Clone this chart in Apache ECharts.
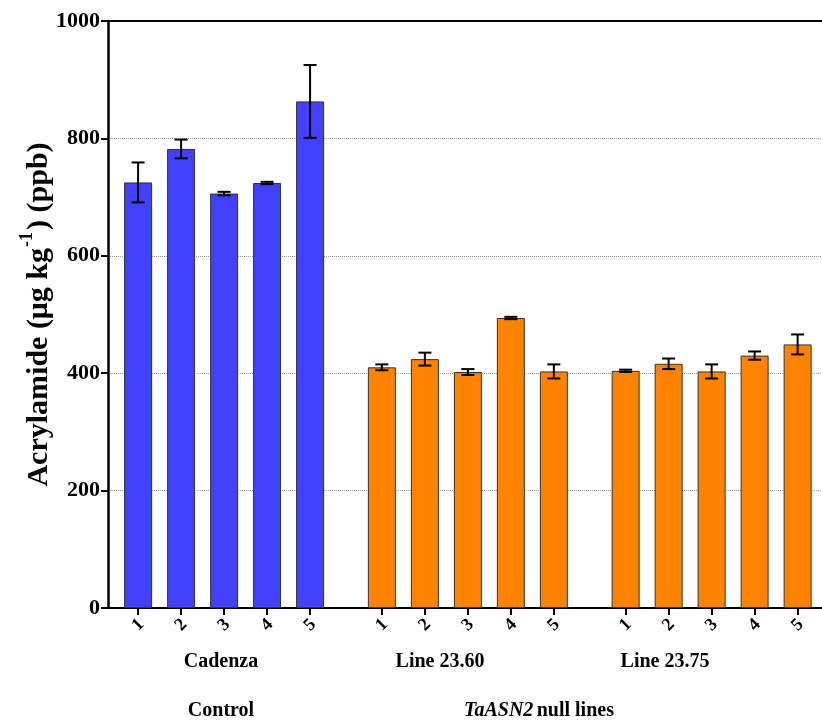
<!DOCTYPE html>
<html>
<head>
<meta charset="utf-8">
<script src="https://cdn.jsdelivr.net/npm/echarts@6/dist/echarts.min.js"></script>
<style>
  html, body { margin: 0; padding: 0; background: #fff; }
  #chart { width: 822px; height: 722px; }
</style>
</head>
<body>
<div id="chart"></div>
<script>
// values (acrylamide, ppb)
var groupNames = ['Cadenza', 'Line 23.60', 'Line 23.75'];
var lineLabels = ['1', '2', '3', '4', '5'];
var cadenzaMeans = [725, 782, 706, 724, 863];
var cadenzaErr = [34, 16, 3, 2, 62];
var line2360Means = [410, 424, 402, 494, 403];
var line2360Err = [5, 11, 5, 2, 12];
var line2375Means = [404, 416, 403, 430, 449];
var line2375Err = [2, 9, 12, 7, 17];
var yTicks = [0, 200, 400, 600, 800, 1000];

var groupMeans = [cadenzaMeans, line2360Means, line2375Means];
var groupErrs = [cadenzaErr, line2360Err, line2375Err];
var groupColors = ['#4141fb', '#ff8200'];
var groupStep = 5.67; // spacing between group starts, in bar slots

var serif = '"Liberation Serif", "Times New Roman", serif';

var barData = [];
var errData = [];
var tickPos = [];
var tickText = {};
groupMeans.forEach(function (means, g) {
    means.forEach(function (v, i) {
        var x = +(g * groupStep + i).toFixed(2);
        var e = groupErrs[g][i];
        barData.push({ value: [x, v], itemStyle: { color: g == 0 ? groupColors[0] : groupColors[1] } });
        errData.push([x, v - e, v + e]);
        tickPos.push(x);
        tickText[x] = lineLabels[i];
    });
});

var chart = echarts.init(document.getElementById('chart'));

var option = {
    backgroundColor: '#fff',
    animation: false,
    grid: {
        left: 108,
        right: -4,
        top: 21,
        bottom: 114,
        containLabel: false,
        outerBoundsMode: 'none'
    },
    xAxis: [{
        type: 'value',
        min: -0.7,
        max: 16,
        splitLine: { show: false },
        axisLine: { show: true, onZero: false, lineStyle: { color: '#000', width: 2 } },
        axisTick: {
            show: true,
            customValues: tickPos,
            length: 7,
            lineStyle: { color: '#000', width: 2 }
        },
        axisLabel: {
            customValues: tickPos,
            rotate: 45,
            align: 'center',
            verticalAlign: 'middle',
            margin: 17,
            fontFamily: serif,
            fontWeight: 'bold',
            fontSize: 18,
            color: '#000',
            formatter: function (v) {
                var k = +(+v).toFixed(2);
                return tickText[k] || '';
            }
        }
    }, {
        type: 'value',
        position: 'top',
        min: -0.7,
        max: 16,
        splitLine: { show: false },
        axisLine: { show: true, onZero: false, lineStyle: { color: '#000', width: 2 } },
        axisTick: { show: false },
        axisLabel: { show: false }
    }],
    yAxis: {
        type: 'value',
        min: yTicks[0],
        max: yTicks[yTicks.length - 1],
        interval: 200,
        name: '{t|Acrylamide (μg kg}{s|-1}{t|) (ppb)}',
        nameLocation: 'middle',
        nameGap: 54,
        nameRotate: 90,
        nameMoveOverlap: false,
        nameTextStyle: {
            rich: {
                t: { fontFamily: serif, fontWeight: 'bold', fontSize: 30, color: '#000', lineHeight: 36, verticalAlign: 'bottom' },
                s: { fontFamily: serif, fontWeight: 'bold', fontSize: 18, color: '#000', lineHeight: 36, verticalAlign: 'top', padding: [0, 2, 0, 1] }
            }
        },
        axisLine: { show: true, onZero: false, lineStyle: { color: '#000', width: 2.5 } },
        axisTick: { show: true, length: 7, lineStyle: { color: '#000', width: 2 } },
        axisLabel: {
            margin: 8,
            fontFamily: serif,
            fontWeight: 'bold',
            fontSize: 22,
            color: '#000',
            formatter: function (v) { return String(v); }
        },
        splitLine: { show: true, lineStyle: { color: '#9a9a9a', width: 1, type: 'dotted' } }
    },
    series: [{
        type: 'bar',
        barWidth: 28,
        data: barData,
        itemStyle: { borderColor: '#333', borderWidth: 1 },
        z: 2
    }, {
        type: 'custom',
        data: errData,
        z: 3,
        renderItem: function (params, api) {
            var x = api.value(0);
            var lo = api.coord([x, api.value(1)]);
            var hi = api.coord([x, api.value(2)]);
            var cap = 6.5;
            var st = { stroke: '#000', lineWidth: 2 };
            return {
                type: 'group',
                children: [
                    { type: 'line', shape: { x1: lo[0], y1: lo[1], x2: hi[0], y2: hi[1] }, style: st },
                    { type: 'line', shape: { x1: lo[0] - cap, y1: lo[1], x2: lo[0] + cap, y2: lo[1] }, style: st },
                    { type: 'line', shape: { x1: hi[0] - cap, y1: hi[1], x2: hi[0] + cap, y2: hi[1] }, style: st }
                ]
            };
        }
    }],
    graphic: [
        { type: 'text', x: 221, y: 662, style: { text: groupNames[0], font: 'bold 20px ' + serif, fill: '#000', align: 'center', verticalAlign: 'middle' } },
        { type: 'text', x: 440, y: 662, style: { text: groupNames[1], font: 'bold 20px ' + serif, fill: '#000', align: 'center', verticalAlign: 'middle' } },
        { type: 'text', x: 665, y: 662, style: { text: groupNames[2], font: 'bold 20px ' + serif, fill: '#000', align: 'center', verticalAlign: 'middle' } },
        { type: 'text', x: 221, y: 711, style: { text: 'Control', font: 'bold 20px ' + serif, fill: '#000', align: 'center', verticalAlign: 'middle' } },
        {
            type: 'text', x: 539, y: 711,
            style: {
                text: '{i|TaASN2} {b|null lines}',
                align: 'center', verticalAlign: 'middle',
                rich: {
                    i: { fontFamily: serif, fontWeight: 'bold', fontStyle: 'italic', fontSize: 20, fill: '#000' },
                    b: { fontFamily: serif, fontWeight: 'bold', fontSize: 20, fill: '#000' }
                }
            }
        }
    ]
};

chart.setOption(option);
</script>
</body>
</html>
